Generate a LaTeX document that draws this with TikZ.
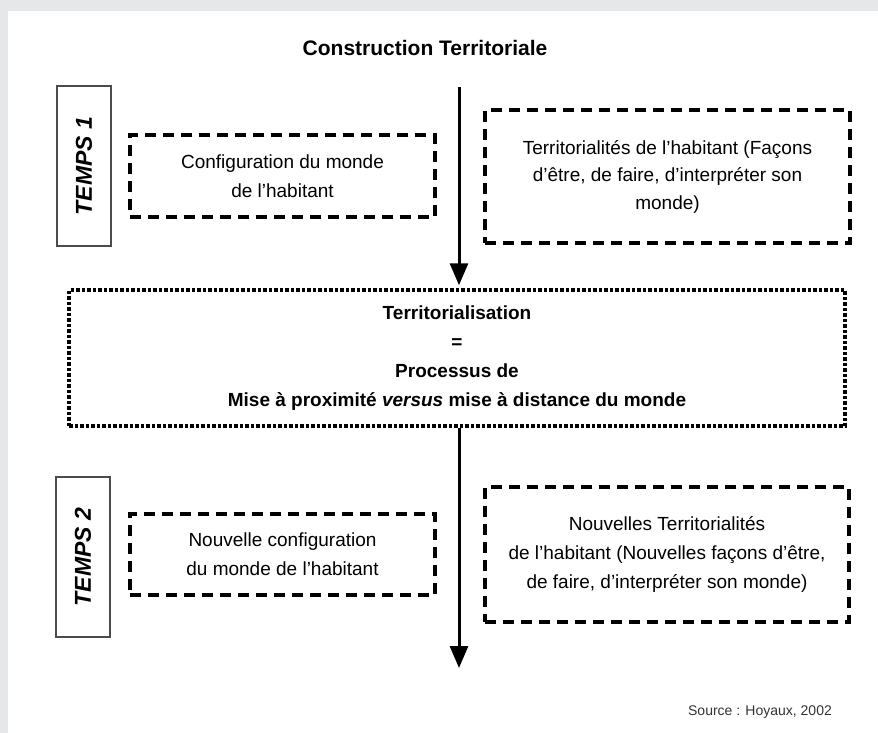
\documentclass[tikz,border=0pt]{standalone}
\usepackage{fontspec}
\setmainfont{Liberation Sans}
\usetikzlibrary{arrows.meta}
\definecolor{pagegray}{HTML}{E6E7E9}
\def\boxfont{\fontsize{19}{29}\selectfont}

\begin{document}
\begin{tikzpicture}[x=1pt,y=-1pt,draw=black,
	every node/.append style={align=center, inner sep=0pt}]
    \tikzstyle{frame}=[draw]
    \tikzstyle{temps}=[frame, draw=black!70, line width=1.5pt, rotate=90,
        minimum width=160pt, minimum height=54pt,
        font=\fontsize{23}{23}\selectfont\bfseries\itshape]
    \tikzstyle{world}=[frame, line width=3.5pt, dash pattern=on 11pt off 7pt, font=\boxfont]
    \tikzstyle{process}=[frame, line width=3.5pt, dash pattern=on 3.5pt off 2pt, font=\boxfont\bfseries]
    \tikzstyle{flow}=[line width=3pt, -{Triangle[width=18pt,length=22pt]}]

    % Page and panel
    \useasboundingbox (0,0) rectangle (878,733);
    \fill[pagegray] (0,0) rectangle (878,733);
    \fill[white] (8,11) rectangle (878,733);

    % Title
    \node (title) at (425,48) {\fontsize{21}{21}\selectfont\bfseries Construction Territoriale};

    % Draw the first time step
    \node[temps] (T-1) at (84,166) {TEMPS 1};
    \node[world, minimum width=305pt, minimum height=82pt] (C-1) at (282.5,176)
        {Configuration du monde\\de l’habitant};
    \node[world, minimum width=365pt, minimum height=133pt, font=\fontsize{19}{27.5}\selectfont] (R-1) at (667.5,176.5)
        {Territorialités de l’habitant (Façons\\d’être, de faire, d’interpréter son\\monde)};

    % Draw the process box
    \node[process, minimum width=776pt, minimum height=136pt] (P) at (457,358)
        {Territorialisation\\=\\Processus de\\Mise à proximité \textit{versus} mise à distance du monde};

    % Draw the second time step
    \node[temps] (T-2) at (83,557) {TEMPS 2};
    \node[world, minimum width=305pt, minimum height=81pt] (C-2) at (282.5,554.5)
        {Nouvelle configuration\\du monde de l’habitant};
    \node[world, minimum width=364pt, minimum height=135pt] (R-2) at (667,554.5)
        {Nouvelles Territorialités\\de l’habitant (Nouvelles façons d’être,\\de faire, d’interpréter son monde)};

    % Connect the steps through the process
    \coordinate (A-1) at (459,87);
    \coordinate (A-2) at (459,668);
    \draw[flow, shorten >=3pt] (A-1) -- (A-1 |- P.north);
    \draw[flow] (P.south -| A-2) -- (A-2);

    % Source
    \node[text=black!80] (src) at (760,712) {\fontsize{14}{14}\selectfont Source : Hoyaux, 2002};
\end{tikzpicture}
\end{document}
